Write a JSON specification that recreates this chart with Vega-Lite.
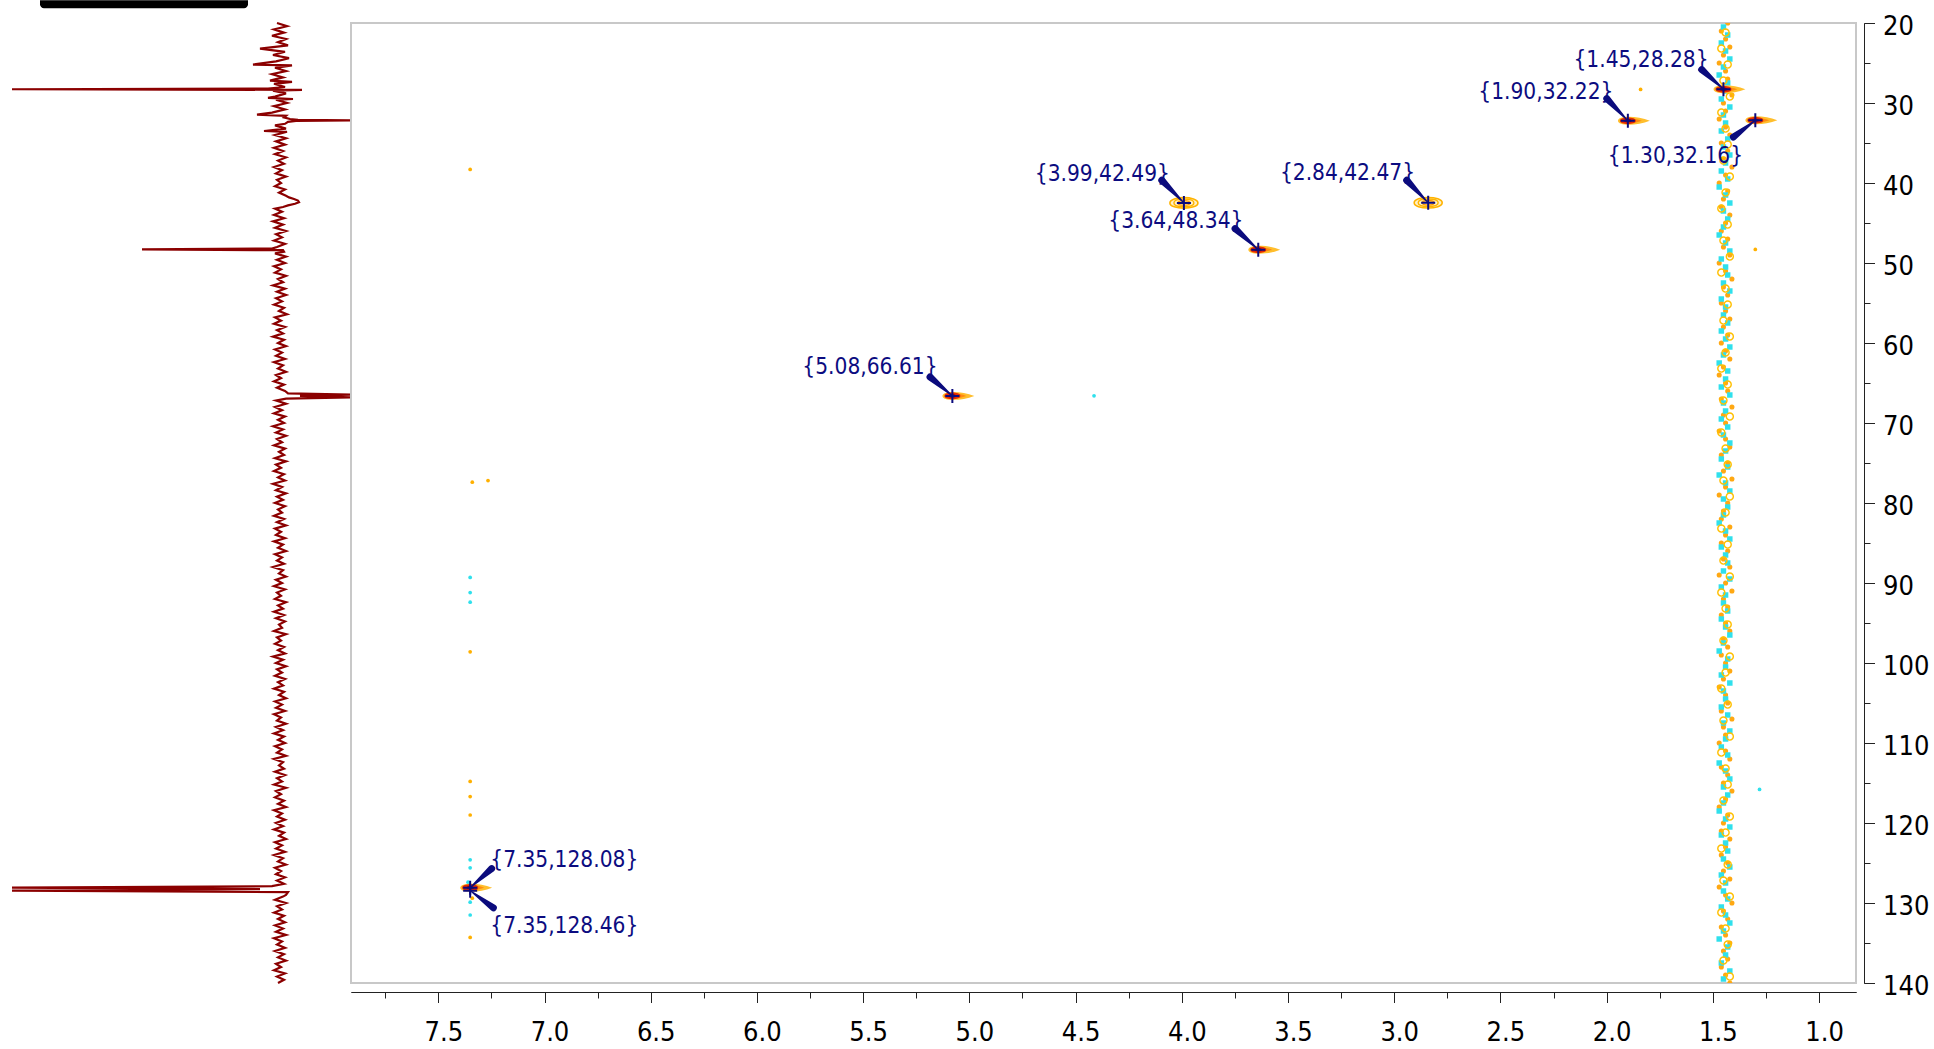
{
"$schema": "https://vega.github.io/schema/vega-lite/v6.json",
"padding": 0,
"spacing": 0,
"bounds": "flush",
"background": "white",
"config": {"view": {"stroke": null}},
"datasets": {
"spec1d": [
{"p":20.0,"i":3},{"p":20.4,"i":-7},{"p":20.8,"i":6},{"p":21.2,"i":-4},{"p":21.6,"i":8},{"p":22.0,"i":-6},{"p":22.4,"i":2},{"p":22.8,"i":-8},{"p":23.2,"i":20},{"p":23.6,"i":-5},
{"p":24.0,"i":7},{"p":24.4,"i":-9},{"p":24.8,"i":4},{"p":25.2,"i":27},{"p":25.3,"i":-12},{"p":25.6,"i":5},{"p":26.0,"i":-6},{"p":26.4,"i":8},{"p":26.8,"i":-3},{"p":27.2,"i":10},
{"p":27.35,"i":-12},{"p":27.6,"i":6},{"p":28.0,"i":-5},{"p":28.2,"i":12},{"p":28.28,"i":268},{"p":28.36,"i":-22},{"p":28.45,"i":7},{"p":28.8,"i":-6},{"p":29.2,"i":5},{"p":29.35,"i":12},
{"p":29.5,"i":-13},{"p":29.6,"i":4},{"p":30.0,"i":-7},{"p":30.4,"i":6},{"p":30.8,"i":-5},{"p":31.2,"i":8},{"p":31.45,"i":23},{"p":31.6,"i":-6},{"p":31.8,"i":-4},{"p":32.0,"i":-10},
{"p":32.1,"i":-18},{"p":32.18,"i":-71},{"p":32.24,"i":-16},{"p":32.35,"i":-8},{"p":32.6,"i":-5},{"p":32.8,"i":5},{"p":33.2,"i":-6},{"p":33.5,"i":16},{"p":33.6,"i":-7},{"p":34.0,"i":5},
{"p":34.4,"i":-6},{"p":34.8,"i":4},{"p":35.2,"i":-5},{"p":35.6,"i":6},{"p":36.0,"i":-3},{"p":36.4,"i":5},{"p":36.8,"i":-6},{"p":37.2,"i":2},{"p":37.6,"i":-4},{"p":38.0,"i":6},
{"p":38.4,"i":-2},{"p":38.8,"i":4},{"p":39.2,"i":-6},{"p":39.6,"i":3},{"p":40.0,"i":-1},{"p":40.4,"i":5},{"p":40.8,"i":-5},{"p":41.2,"i":1},{"p":41.6,"i":-6},{"p":41.8,"i":-9},
{"p":42.0,"i":-14},{"p":42.2,"i":-18},{"p":42.4,"i":-19},{"p":42.6,"i":-15},{"p":42.8,"i":-8},{"p":43.0,"i":-3},{"p":43.2,"i":5},{"p":43.6,"i":-2},{"p":44.0,"i":6},{"p":44.4,"i":-4},
{"p":44.8,"i":7},{"p":45.2,"i":-3},{"p":45.6,"i":5},{"p":46.0,"i":-6},{"p":46.4,"i":4},{"p":46.8,"i":-2},{"p":47.2,"i":6},{"p":47.6,"i":-5},{"p":48.0,"i":3},{"p":48.2,"i":8},
{"p":48.3,"i":138},{"p":48.4,"i":-3},{"p":48.6,"i":-4},{"p":48.8,"i":5},{"p":49.2,"i":-6},{"p":49.6,"i":3},{"p":50.0,"i":-5},{"p":50.4,"i":6},{"p":50.8,"i":-1},{"p":51.2,"i":5},
{"p":51.6,"i":-6},{"p":52.0,"i":2},{"p":52.4,"i":-3},{"p":52.8,"i":7},{"p":53.2,"i":-5},{"p":53.6,"i":3},{"p":54.0,"i":-6},{"p":54.4,"i":4},{"p":54.8,"i":-2},{"p":55.2,"i":6},
{"p":55.6,"i":-4},{"p":56.0,"i":1},{"p":56.4,"i":-7},{"p":56.8,"i":5},{"p":57.2,"i":-1},{"p":57.6,"i":6},{"p":58.0,"i":-5},{"p":58.4,"i":3},{"p":58.8,"i":-3},{"p":59.2,"i":7},
{"p":59.6,"i":-4},{"p":60.0,"i":2},{"p":60.4,"i":-6},{"p":60.8,"i":5},{"p":61.2,"i":-2},{"p":61.6,"i":4},{"p":62.0,"i":-5},{"p":62.4,"i":6},{"p":62.8,"i":-3},{"p":63.2,"i":2},
{"p":63.6,"i":-6},{"p":64.0,"i":4},{"p":64.4,"i":-1},{"p":64.8,"i":6},{"p":65.2,"i":-4},{"p":65.6,"i":3},{"p":66.0,"i":-5},{"p":66.3,"i":-8},{"p":66.45,"i":-71},{"p":66.62,"i":-20},
{"p":66.79,"i":-71},{"p":66.95,"i":-6},{"p":67.2,"i":4},{"p":67.6,"i":-6},{"p":68.0,"i":5},{"p":68.4,"i":-2},{"p":68.8,"i":6},{"p":69.2,"i":-5},{"p":69.6,"i":2},{"p":70.0,"i":-4},
{"p":70.4,"i":7},{"p":70.8,"i":-3},{"p":71.2,"i":4},{"p":71.6,"i":-6},{"p":72.0,"i":3},{"p":72.4,"i":-2},{"p":72.8,"i":6},{"p":73.2,"i":-5},{"p":73.6,"i":1},{"p":74.0,"i":-4},
{"p":74.4,"i":5},{"p":74.8,"i":-6},{"p":75.2,"i":4},{"p":75.6,"i":-1},{"p":76.0,"i":6},{"p":76.4,"i":-4},{"p":76.8,"i":2},{"p":77.2,"i":-5},{"p":77.6,"i":7},{"p":78.0,"i":-2},
{"p":78.4,"i":4},{"p":78.8,"i":-6},{"p":79.2,"i":3},{"p":79.6,"i":-3},{"p":80.0,"i":5},{"p":80.4,"i":-5},{"p":80.8,"i":2},{"p":81.2,"i":-2},{"p":81.6,"i":6},{"p":82.0,"i":-4},
{"p":82.4,"i":3},{"p":82.8,"i":-6},{"p":83.2,"i":5},{"p":83.6,"i":-1},{"p":84.0,"i":4},{"p":84.4,"i":-5},{"p":84.8,"i":6},{"p":85.2,"i":-3},{"p":85.6,"i":2},{"p":86.0,"i":-6},
{"p":86.4,"i":5},{"p":86.8,"i":-2},{"p":87.2,"i":3},{"p":87.6,"i":-4},{"p":88.0,"i":7},{"p":88.4,"i":-3},{"p":88.8,"i":1},{"p":89.2,"i":-6},{"p":89.6,"i":4},{"p":90.0,"i":-2},
{"p":90.4,"i":6},{"p":90.8,"i":-5},{"p":91.2,"i":3},{"p":91.6,"i":-1},{"p":92.0,"i":5},{"p":92.4,"i":-6},{"p":92.8,"i":2},{"p":93.2,"i":-3},{"p":93.6,"i":6},{"p":94.0,"i":-4},
{"p":94.4,"i":4},{"p":94.8,"i":-5},{"p":95.2,"i":1},{"p":95.6,"i":-2},{"p":96.0,"i":6},{"p":96.4,"i":-6},{"p":96.8,"i":3},{"p":97.2,"i":-1},{"p":97.6,"i":5},{"p":98.0,"i":-4},
{"p":98.4,"i":2},{"p":98.8,"i":-5},{"p":99.2,"i":7},{"p":99.6,"i":-3},{"p":100.0,"i":4},{"p":100.4,"i":-6},{"p":100.8,"i":3},{"p":101.2,"i":-2},{"p":101.6,"i":5},{"p":102.0,"i":-5},
{"p":102.4,"i":2},{"p":102.8,"i":-3},{"p":103.2,"i":6},{"p":103.6,"i":-4},{"p":104.0,"i":1},{"p":104.4,"i":-6},{"p":104.8,"i":5},{"p":105.2,"i":-2},{"p":105.6,"i":4},{"p":106.0,"i":-5},
{"p":106.4,"i":6},{"p":106.8,"i":-1},{"p":107.2,"i":3},{"p":107.6,"i":-6},{"p":108.0,"i":4},{"p":108.4,"i":-3},{"p":108.8,"i":6},{"p":109.2,"i":-4},{"p":109.6,"i":2},{"p":110.0,"i":-5},
{"p":110.4,"i":5},{"p":110.8,"i":-2},{"p":111.2,"i":3},{"p":111.6,"i":-6},{"p":112.0,"i":6},{"p":112.4,"i":-3},{"p":112.8,"i":1},{"p":113.2,"i":-4},{"p":113.6,"i":5},{"p":114.0,"i":-5},
{"p":114.4,"i":3},{"p":114.8,"i":-2},{"p":115.2,"i":6},{"p":115.6,"i":-6},{"p":116.0,"i":4},{"p":116.4,"i":-1},{"p":116.8,"i":5},{"p":117.2,"i":-4},{"p":117.6,"i":2},{"p":118.0,"i":-6},
{"p":118.4,"i":6},{"p":118.8,"i":-2},{"p":119.2,"i":3},{"p":119.6,"i":-5},{"p":120.0,"i":4},{"p":120.4,"i":-3},{"p":120.8,"i":6},{"p":121.2,"i":-4},{"p":121.6,"i":1},{"p":122.0,"i":-6},
{"p":122.4,"i":5},{"p":122.8,"i":-2},{"p":123.2,"i":4},{"p":123.6,"i":-5},{"p":124.0,"i":6},{"p":124.4,"i":-3},{"p":124.8,"i":2},{"p":125.2,"i":-6},{"p":125.6,"i":5},{"p":126.0,"i":-1},
{"p":126.4,"i":4},{"p":126.8,"i":-5},{"p":127.2,"i":3},{"p":127.6,"i":-4},{"p":127.9,"i":8},{"p":128.08,"i":268},{"p":128.27,"i":20},{"p":128.46,"i":268},{"p":128.65,"i":-8},{"p":129.0,"i":-6},
{"p":129.2,"i":-3},{"p":129.6,"i":5},{"p":130.0,"i":-6},{"p":130.4,"i":3},{"p":130.8,"i":-2},{"p":131.2,"i":6},{"p":131.6,"i":-4},{"p":132.0,"i":2},{"p":132.4,"i":-5},{"p":132.8,"i":5},
{"p":133.2,"i":-3},{"p":133.6,"i":4},{"p":134.0,"i":-6},{"p":134.4,"i":6},{"p":134.8,"i":-2},{"p":135.2,"i":3},{"p":135.6,"i":-5},{"p":136.0,"i":5},{"p":136.4,"i":-4},{"p":136.8,"i":2},
{"p":137.2,"i":-6},{"p":137.6,"i":4},{"p":138.0,"i":-1},{"p":138.4,"i":6},{"p":138.8,"i":-5},{"p":139.2,"i":3},{"p":139.6,"i":-4},{"p":140.0,"i":2}
],
"bar": [{"x1":240,"x2":32,"y1":17.16,"y2":18.15}],
"streak": [
{"k":"c","y":20.5,"x":1.45},{"k":"c","y":21.5,"x":1.43},{"k":"c","y":22.5,"x":1.46},{"k":"c","y":23.5,"x":1.44},{"k":"c","y":24.5,"x":1.42},{"k":"c","y":25.5,"x":1.45},{"k":"c","y":26.5,"x":1.47},{"k":"c","y":27.5,"x":1.43},{"k":"c","y":28.5,"x":1.44},{"k":"c","y":29.5,"x":1.46},{"k":"c","y":30.5,"x":1.42},{"k":"c","y":31.5,"x":1.45},
{"k":"c","y":32.5,"x":1.44},{"k":"c","y":33.5,"x":1.46},{"k":"c","y":34.5,"x":1.43},{"k":"c","y":35.5,"x":1.45},{"k":"c","y":36.5,"x":1.42},{"k":"c","y":37.5,"x":1.44},{"k":"c","y":38.5,"x":1.46},{"k":"c","y":39.5,"x":1.43},{"k":"c","y":40.5,"x":1.47},{"k":"c","y":41.5,"x":1.44},{"k":"c","y":42.5,"x":1.42},{"k":"c","y":43.5,"x":1.45},
{"k":"c","y":44.5,"x":1.43},{"k":"c","y":45.5,"x":1.45},{"k":"c","y":46.5,"x":1.47},{"k":"c","y":47.5,"x":1.44},{"k":"c","y":48.5,"x":1.42},{"k":"c","y":49.5,"x":1.46},{"k":"c","y":50.5,"x":1.44},{"k":"c","y":51.5,"x":1.43},{"k":"c","y":52.5,"x":1.45},{"k":"c","y":53.5,"x":1.42},{"k":"c","y":54.5,"x":1.46},{"k":"c","y":55.5,"x":1.44},
{"k":"c","y":56.5,"x":1.45},{"k":"c","y":57.5,"x":1.43},{"k":"c","y":58.5,"x":1.46},{"k":"c","y":59.5,"x":1.44},{"k":"c","y":60.5,"x":1.42},{"k":"c","y":61.5,"x":1.45},{"k":"c","y":62.5,"x":1.47},{"k":"c","y":63.5,"x":1.43},{"k":"c","y":64.5,"x":1.44},{"k":"c","y":65.5,"x":1.46},{"k":"c","y":66.5,"x":1.42},{"k":"c","y":67.5,"x":1.45},
{"k":"c","y":68.5,"x":1.44},{"k":"c","y":69.5,"x":1.46},{"k":"c","y":70.5,"x":1.43},{"k":"c","y":71.5,"x":1.45},{"k":"c","y":72.5,"x":1.42},{"k":"c","y":73.5,"x":1.44},{"k":"c","y":74.5,"x":1.46},{"k":"c","y":75.5,"x":1.43},{"k":"c","y":76.5,"x":1.47},{"k":"c","y":77.5,"x":1.44},{"k":"c","y":78.5,"x":1.42},{"k":"c","y":79.5,"x":1.45},
{"k":"c","y":80.5,"x":1.43},{"k":"c","y":81.5,"x":1.45},{"k":"c","y":82.5,"x":1.47},{"k":"c","y":83.5,"x":1.44},{"k":"c","y":84.5,"x":1.42},{"k":"c","y":85.5,"x":1.46},{"k":"c","y":86.5,"x":1.44},{"k":"c","y":87.5,"x":1.43},{"k":"c","y":88.5,"x":1.45},{"k":"c","y":89.5,"x":1.42},{"k":"c","y":90.5,"x":1.46},{"k":"c","y":91.5,"x":1.44},
{"k":"c","y":92.5,"x":1.45},{"k":"c","y":93.5,"x":1.43},{"k":"c","y":94.5,"x":1.46},{"k":"c","y":95.5,"x":1.44},{"k":"c","y":96.5,"x":1.42},{"k":"c","y":97.5,"x":1.45},{"k":"c","y":98.5,"x":1.47},{"k":"c","y":99.5,"x":1.43},{"k":"c","y":100.5,"x":1.44},{"k":"c","y":101.5,"x":1.46},{"k":"c","y":102.5,"x":1.42},{"k":"c","y":103.5,"x":1.45},
{"k":"c","y":104.5,"x":1.44},{"k":"c","y":105.5,"x":1.46},{"k":"c","y":106.5,"x":1.43},{"k":"c","y":107.5,"x":1.45},{"k":"c","y":108.5,"x":1.42},{"k":"c","y":109.5,"x":1.44},{"k":"c","y":110.5,"x":1.46},{"k":"c","y":111.5,"x":1.43},{"k":"c","y":112.5,"x":1.47},{"k":"c","y":113.5,"x":1.44},{"k":"c","y":114.5,"x":1.42},{"k":"c","y":115.5,"x":1.45},
{"k":"c","y":116.5,"x":1.43},{"k":"c","y":117.5,"x":1.45},{"k":"c","y":118.5,"x":1.47},{"k":"c","y":119.5,"x":1.44},{"k":"c","y":120.5,"x":1.42},{"k":"c","y":121.5,"x":1.46},{"k":"c","y":122.5,"x":1.44},{"k":"c","y":123.5,"x":1.43},{"k":"c","y":124.5,"x":1.45},{"k":"c","y":125.5,"x":1.42},{"k":"c","y":126.5,"x":1.46},{"k":"c","y":127.5,"x":1.44},
{"k":"c","y":128.5,"x":1.45},{"k":"c","y":129.5,"x":1.43},{"k":"c","y":130.5,"x":1.46},{"k":"c","y":131.5,"x":1.44},{"k":"c","y":132.5,"x":1.42},{"k":"c","y":133.5,"x":1.45},{"k":"c","y":134.5,"x":1.47},{"k":"c","y":135.5,"x":1.43},{"k":"c","y":136.5,"x":1.44},{"k":"c","y":137.5,"x":1.46},{"k":"c","y":138.5,"x":1.42},{"k":"c","y":139.5,"x":1.45},
{"k":"o","y":20,"x":1.43},{"k":"o","y":21,"x":1.46},{"k":"o","y":22,"x":1.44},{"k":"o","y":23,"x":1.42},{"k":"o","y":24,"x":1.45},{"k":"o","y":25,"x":1.47},{"k":"o","y":26,"x":1.44},{"k":"o","y":27,"x":1.43},{"k":"o","y":28,"x":1.46},{"k":"o","y":29,"x":1.41},{"k":"o","y":30,"x":1.45},{"k":"o","y":31,"x":1.44},{"k":"o","y":32,"x":1.47},
{"k":"o","y":33,"x":1.44},{"k":"o","y":34,"x":1.42},{"k":"o","y":35,"x":1.46},{"k":"o","y":36,"x":1.43},{"k":"o","y":37,"x":1.45},{"k":"o","y":38,"x":1.41},{"k":"o","y":39,"x":1.44},{"k":"o","y":40,"x":1.47},{"k":"o","y":41,"x":1.43},{"k":"o","y":42,"x":1.45},{"k":"o","y":43,"x":1.46},{"k":"o","y":44,"x":1.42},{"k":"o","y":45,"x":1.44},
{"k":"o","y":46,"x":1.46},{"k":"o","y":47,"x":1.43},{"k":"o","y":48,"x":1.45},{"k":"o","y":49,"x":1.42},{"k":"o","y":50,"x":1.47},{"k":"o","y":51,"x":1.44},{"k":"o","y":52,"x":1.41},{"k":"o","y":53,"x":1.45},{"k":"o","y":54,"x":1.43},{"k":"o","y":55,"x":1.46},{"k":"o","y":56,"x":1.44},{"k":"o","y":57,"x":1.42},{"k":"o","y":58,"x":1.45},
{"k":"o","y":59,"x":1.43},{"k":"o","y":60,"x":1.46},{"k":"o","y":61,"x":1.44},{"k":"o","y":62,"x":1.42},{"k":"o","y":63,"x":1.45},{"k":"o","y":64,"x":1.47},{"k":"o","y":65,"x":1.44},{"k":"o","y":66,"x":1.43},{"k":"o","y":67,"x":1.46},{"k":"o","y":68,"x":1.41},{"k":"o","y":69,"x":1.45},{"k":"o","y":70,"x":1.44},{"k":"o","y":71,"x":1.47},
{"k":"o","y":72,"x":1.44},{"k":"o","y":73,"x":1.42},{"k":"o","y":74,"x":1.46},{"k":"o","y":75,"x":1.43},{"k":"o","y":76,"x":1.45},{"k":"o","y":77,"x":1.41},{"k":"o","y":78,"x":1.44},{"k":"o","y":79,"x":1.47},{"k":"o","y":80,"x":1.43},{"k":"o","y":81,"x":1.45},{"k":"o","y":82,"x":1.46},{"k":"o","y":83,"x":1.42},{"k":"o","y":84,"x":1.44},
{"k":"o","y":85,"x":1.46},{"k":"o","y":86,"x":1.43},{"k":"o","y":87,"x":1.45},{"k":"o","y":88,"x":1.42},{"k":"o","y":89,"x":1.47},{"k":"o","y":90,"x":1.44},{"k":"o","y":91,"x":1.41},{"k":"o","y":92,"x":1.45},{"k":"o","y":93,"x":1.43},{"k":"o","y":94,"x":1.46},{"k":"o","y":95,"x":1.44},{"k":"o","y":96,"x":1.42},{"k":"o","y":97,"x":1.45},
{"k":"o","y":98,"x":1.43},{"k":"o","y":99,"x":1.46},{"k":"o","y":100,"x":1.44},{"k":"o","y":101,"x":1.42},{"k":"o","y":102,"x":1.45},{"k":"o","y":103,"x":1.47},{"k":"o","y":104,"x":1.44},{"k":"o","y":105,"x":1.43},{"k":"o","y":106,"x":1.46},{"k":"o","y":107,"x":1.41},{"k":"o","y":108,"x":1.45},{"k":"o","y":109,"x":1.44},{"k":"o","y":110,"x":1.47},
{"k":"o","y":111,"x":1.44},{"k":"o","y":112,"x":1.42},{"k":"o","y":113,"x":1.46},{"k":"o","y":114,"x":1.43},{"k":"o","y":115,"x":1.45},{"k":"o","y":116,"x":1.41},{"k":"o","y":117,"x":1.44},{"k":"o","y":118,"x":1.47},{"k":"o","y":119,"x":1.43},{"k":"o","y":120,"x":1.45},{"k":"o","y":121,"x":1.46},{"k":"o","y":122,"x":1.42},{"k":"o","y":123,"x":1.44},
{"k":"o","y":124,"x":1.46},{"k":"o","y":125,"x":1.43},{"k":"o","y":126,"x":1.45},{"k":"o","y":127,"x":1.42},{"k":"o","y":128,"x":1.47},{"k":"o","y":129,"x":1.44},{"k":"o","y":130,"x":1.41},{"k":"o","y":131,"x":1.45},{"k":"o","y":132,"x":1.43},{"k":"o","y":133,"x":1.46},{"k":"o","y":134,"x":1.44},{"k":"o","y":135,"x":1.42},{"k":"o","y":136,"x":1.45},
{"k":"o","y":137,"x":1.43},{"k":"o","y":138,"x":1.46},{"k":"o","y":139,"x":1.44},{"k":"o","y":140,"x":1.42},
{"k":"r","y":21.2,"x":1.44},{"k":"r","y":23.2,"x":1.46},{"k":"r","y":25.2,"x":1.43},{"k":"r","y":27.2,"x":1.45},{"k":"r","y":29.2,"x":1.42},{"k":"r","y":31.2,"x":1.46},{"k":"r","y":33.2,"x":1.44},{"k":"r","y":35.2,"x":1.43},{"k":"r","y":37.2,"x":1.45},{"k":"r","y":39.2,"x":1.42},
{"k":"r","y":41.2,"x":1.44},{"k":"r","y":43.2,"x":1.46},{"k":"r","y":45.2,"x":1.43},{"k":"r","y":47.2,"x":1.45},{"k":"r","y":49.2,"x":1.42},{"k":"r","y":51.2,"x":1.46},{"k":"r","y":53.2,"x":1.44},{"k":"r","y":55.2,"x":1.43},{"k":"r","y":57.2,"x":1.45},{"k":"r","y":59.2,"x":1.42},
{"k":"r","y":61.2,"x":1.44},{"k":"r","y":63.2,"x":1.46},{"k":"r","y":65.2,"x":1.43},{"k":"r","y":67.2,"x":1.45},{"k":"r","y":69.2,"x":1.42},{"k":"r","y":71.2,"x":1.46},{"k":"r","y":73.2,"x":1.44},{"k":"r","y":75.2,"x":1.43},{"k":"r","y":77.2,"x":1.45},{"k":"r","y":79.2,"x":1.42},
{"k":"r","y":81.2,"x":1.44},{"k":"r","y":83.2,"x":1.46},{"k":"r","y":85.2,"x":1.43},{"k":"r","y":87.2,"x":1.45},{"k":"r","y":89.2,"x":1.42},{"k":"r","y":91.2,"x":1.46},{"k":"r","y":93.2,"x":1.44},{"k":"r","y":95.2,"x":1.43},{"k":"r","y":97.2,"x":1.45},{"k":"r","y":99.2,"x":1.42},
{"k":"r","y":101.2,"x":1.44},{"k":"r","y":103.2,"x":1.46},{"k":"r","y":105.2,"x":1.43},{"k":"r","y":107.2,"x":1.45},{"k":"r","y":109.2,"x":1.42},{"k":"r","y":111.2,"x":1.46},{"k":"r","y":113.2,"x":1.44},{"k":"r","y":115.2,"x":1.43},{"k":"r","y":117.2,"x":1.45},{"k":"r","y":119.2,"x":1.42},
{"k":"r","y":121.2,"x":1.44},{"k":"r","y":123.2,"x":1.46},{"k":"r","y":125.2,"x":1.43},{"k":"r","y":127.2,"x":1.45},{"k":"r","y":129.2,"x":1.42},{"k":"r","y":131.2,"x":1.46},{"k":"r","y":133.2,"x":1.44},{"k":"r","y":135.2,"x":1.43},{"k":"r","y":137.2,"x":1.45},{"k":"r","y":139.2,"x":1.42}
],
"specks": [
{"x":7.266,"y":77.2,"k":"o"},{"x":7.34,"y":77.4,"k":"o"},{"x":7.35,"y":38.3,"k":"o"},{"x":7.35,"y":89.3,"k":"c"},{"x":7.35,"y":91.2,"k":"c"},{"x":7.35,"y":92.4,"k":"c"},{"x":7.35,"y":98.6,"k":"o"},{"x":7.35,"y":114.8,"k":"o"},{"x":7.35,"y":116.7,"k":"o"},{"x":7.35,"y":119.0,"k":"o"},{"x":7.35,"y":124.6,"k":"c"},{"x":7.35,"y":125.6,"k":"c"},{"x":7.38,"y":128.2,"k":"c"},{"x":7.36,"y":127.4,"k":"c"},{"x":7.35,"y":129.9,"k":"c"},{"x":7.34,"y":129.4,"k":"o"},{"x":7.35,"y":131.5,"k":"c"},{"x":7.35,"y":134.3,"k":"o"},{"x":4.413,"y":66.6,"k":"c"},{"x":1.28,"y":115.8,"k":"c"},{"x":1.30,"y":48.3,"k":"o"},{"x":1.84,"y":28.3,"k":"o"}
],
"peaks": [
{"x":1.45,"y":28.28,"label":"{1.45,28.28}","lx":1.838,"ly":24.66,"t":"filled"},
{"x":1.90,"y":32.22,"label":"{1.90,32.22}","lx":2.286,"ly":28.63,"t":"filled"},
{"x":1.30,"y":32.16,"label":"{1.30,32.16}","lx":1.676,"ly":36.66,"t":"filled"},
{"x":3.99,"y":42.49,"label":"{3.99,42.49}","lx":4.374,"ly":38.83,"t":"ring"},
{"x":2.84,"y":42.47,"label":"{2.84,42.47}","lx":3.220,"ly":38.79,"t":"ring"},
{"x":3.64,"y":48.34,"label":"{3.64,48.34}","lx":4.028,"ly":44.75,"t":"filled"},
{"x":5.08,"y":66.61,"label":"{5.08,66.61}","lx":5.468,"ly":62.95,"t":"filled"},
{"x":7.35,"y":128.08,"label":"{7.35,128.08}","lx":6.907,"ly":124.66,"t":"filled"},
{"x":7.35,"y":128.46,"label":"{7.35,128.46}","lx":6.907,"ly":132.91,"t":"none"}
],
"arrows": [
{"id":1,"s":0,"x":1.552,"y":25.83},{"id":1,"s":1,"x":1.45,"y":28.28},
{"id":2,"s":0,"x":1.999,"y":29.45},{"id":2,"s":1,"x":1.90,"y":32.22},
{"id":3,"s":0,"x":1.403,"y":34.25},{"id":3,"s":1,"x":1.30,"y":32.16},
{"id":4,"s":0,"x":4.094,"y":39.66},{"id":4,"s":1,"x":3.99,"y":42.49},
{"id":5,"s":0,"x":2.941,"y":39.66},{"id":5,"s":1,"x":2.84,"y":42.47},
{"id":6,"s":0,"x":3.749,"y":45.7},{"id":6,"s":1,"x":3.64,"y":48.34},
{"id":7,"s":0,"x":5.185,"y":64.25},{"id":7,"s":1,"x":5.08,"y":66.61},
{"id":8,"s":0,"x":7.249,"y":125.7},{"id":8,"s":1,"x":7.35,"y":128.08},
{"id":9,"s":0,"x":7.241,"y":130.6},{"id":9,"s":1,"x":7.35,"y":128.46}
]
},
"hconcat": [
{
"width": 351,
"height": 960,
"layer": [
{"data": {"name": "spec1d"},
 "mark": {"type": "line", "color": "#8b0000", "strokeWidth": 2.2},
 "encoding": {
  "x": {"field": "i", "type": "quantitative", "scale": {"domain": [-71, 280], "reverse": true, "nice": false, "zero": false}, "axis": null},
  "y": {"field": "p", "type": "quantitative", "scale": {"domain": [20, 140], "reverse": true, "nice": false, "zero": false}, "axis": null},
  "order": {"field": "p", "type": "quantitative"}
 }},
{"data": {"name": "bar"},
 "mark": {"type": "rect", "color": "#000000", "cornerRadiusBottomLeft": 8, "cornerRadiusBottomRight": 8},
 "encoding": {
  "x": {"field": "x1", "type": "quantitative", "scale": {"domain": [-71, 280], "reverse": true, "nice": false, "zero": false}, "axis": null},
  "x2": {"field": "x2"},
  "y": {"field": "y1", "type": "quantitative", "scale": {"domain": [20, 140], "reverse": true, "nice": false, "zero": false}, "axis": null},
  "y2": {"field": "y2"}
 }}
]
},
{
"width": 1505,
"height": 960,
"view": {"stroke": "#c8c8c8", "strokeWidth": 2},
"resolve": {"axis": {"x": "independent", "y": "independent"}},
"layer": [
{"data": {"name": "streak"}, "transform": [{"filter": "datum.k === 'o'"}],
 "mark": {"type": "point", "shape": "circle", "filled": true, "size": 26, "color": "#ffa812", "opacity": 1, "clip": true},
 "encoding": {
  "x": {"field": "x", "type": "quantitative", "scale": {"domain": [0.826, 7.911], "reverse": true, "nice": false, "zero": false}, "axis": null},
  "y": {"field": "y", "type": "quantitative", "scale": {"domain": [20, 140], "reverse": true, "nice": false, "zero": false}, "axis": null}
 }},
{"data": {"name": "streak"}, "transform": [{"filter": "datum.k === 'c'"}],
 "mark": {"type": "point", "shape": "square", "filled": true, "size": 30, "color": "#2fe0ec", "opacity": 1, "clip": true},
 "encoding": {
  "x": {"field": "x", "type": "quantitative", "scale": {"domain": [0.826, 7.911], "reverse": true, "nice": false, "zero": false}, "axis": null},
  "y": {"field": "y", "type": "quantitative", "scale": {"domain": [20, 140], "reverse": true, "nice": false, "zero": false}, "axis": null}
 }},
{"data": {"name": "streak"}, "transform": [{"filter": "datum.k === 'r'"}],
 "mark": {"type": "point", "shape": "circle", "filled": false, "size": 50, "stroke": "#ffbf00", "strokeWidth": 1.4, "opacity": 1, "clip": true},
 "encoding": {
  "x": {"field": "x", "type": "quantitative", "scale": {"domain": [0.826, 7.911], "reverse": true, "nice": false, "zero": false}, "axis": null},
  "y": {"field": "y", "type": "quantitative", "scale": {"domain": [20, 140], "reverse": true, "nice": false, "zero": false}, "axis": null}
 }},
{"data": {"name": "specks"},
 "mark": {"type": "point", "shape": "circle", "filled": true, "size": 14, "opacity": 1},
 "encoding": {
  "x": {"field": "x", "type": "quantitative", "scale": {"domain": [0.826, 7.911], "reverse": true, "nice": false, "zero": false}, "axis": null},
  "y": {"field": "y", "type": "quantitative", "scale": {"domain": [20, 140], "reverse": true, "nice": false, "zero": false}, "axis": null},
  "color": {"field": "k", "type": "nominal", "scale": {"domain": ["c", "o"], "range": ["#2fe0ec", "#ffb000"]}, "legend": null}
 }},
{"data": {"name": "peaks"}, "transform": [{"filter": "datum.t === 'filled'"}],
 "mark": {"type": "point", "shape": "M-0.45,0C-0.45,-0.24 0.4,-0.24 1,0C0.4,0.24 -0.45,0.24 -0.45,0Z", "filled": true, "size": 1936, "color": "#ffbe2c", "opacity": 1},
 "encoding": {
  "x": {"field": "x", "type": "quantitative", "scale": {"domain": [0.826, 7.911], "reverse": true, "nice": false, "zero": false}, "axis": null},
  "y": {"field": "y", "type": "quantitative", "scale": {"domain": [20, 140], "reverse": true, "nice": false, "zero": false}, "axis": null}
 }},
{"data": {"name": "peaks"}, "transform": [{"filter": "datum.t === 'filled'"}],
 "mark": {"type": "point", "shape": "M-0.45,0C-0.45,-0.24 0.4,-0.24 1,0C0.4,0.24 -0.45,0.24 -0.45,0Z", "filled": true, "size": 784, "color": "#ff8a10", "opacity": 1},
 "encoding": {
  "x": {"field": "x", "type": "quantitative", "scale": {"domain": [0.826, 7.911], "reverse": true, "nice": false, "zero": false}, "axis": null},
  "y": {"field": "y", "type": "quantitative", "scale": {"domain": [20, 140], "reverse": true, "nice": false, "zero": false}, "axis": null}
 }},
{"data": {"name": "peaks"}, "transform": [{"filter": "datum.t === 'filled'"}],
 "mark": {"type": "point", "shape": "M-1,0C-1,-0.55 1,-0.55 1,0C1,0.55 -1,0.55 -1,0Z", "filled": true, "size": 256, "color": "#e62a00", "opacity": 1},
 "encoding": {
  "x": {"field": "x", "type": "quantitative", "scale": {"domain": [0.826, 7.911], "reverse": true, "nice": false, "zero": false}, "axis": null},
  "y": {"field": "y", "type": "quantitative", "scale": {"domain": [20, 140], "reverse": true, "nice": false, "zero": false}, "axis": null}
 }},
{"data": {"name": "peaks"}, "transform": [{"filter": "datum.t === 'filled'"}],
 "mark": {"type": "point", "shape": "M-1,0C-1,-0.55 1,-0.55 1,0C1,0.55 -1,0.55 -1,0Z", "filled": true, "size": 64, "color": "#8a0000", "opacity": 1},
 "encoding": {
  "x": {"field": "x", "type": "quantitative", "scale": {"domain": [0.826, 7.911], "reverse": true, "nice": false, "zero": false}, "axis": null},
  "y": {"field": "y", "type": "quantitative", "scale": {"domain": [20, 140], "reverse": true, "nice": false, "zero": false}, "axis": null}
 }},
{"data": {"name": "peaks"}, "transform": [{"filter": "datum.t === 'ring'"}],
 "mark": {"type": "point", "shape": "M-1,0C-1,-0.5 1,-0.5 1,0C1,0.5 -1,0.5 -1,0Z", "filled": true, "size": 784, "fill": "#fff1c6", "stroke": "#ffb300", "strokeWidth": 1.6, "opacity": 1},
 "encoding": {
  "x": {"field": "x", "type": "quantitative", "scale": {"domain": [0.826, 7.911], "reverse": true, "nice": false, "zero": false}, "axis": null},
  "y": {"field": "y", "type": "quantitative", "scale": {"domain": [20, 140], "reverse": true, "nice": false, "zero": false}, "axis": null}
 }},
{"data": {"name": "peaks"}, "transform": [{"filter": "datum.t === 'ring'"}],
 "mark": {"type": "point", "shape": "M-1,0C-1,-0.5 1,-0.5 1,0C1,0.5 -1,0.5 -1,0Z", "filled": false, "size": 400, "stroke": "#ffb300", "strokeWidth": 1.4, "opacity": 1},
 "encoding": {
  "x": {"field": "x", "type": "quantitative", "scale": {"domain": [0.826, 7.911], "reverse": true, "nice": false, "zero": false}, "axis": null},
  "y": {"field": "y", "type": "quantitative", "scale": {"domain": [20, 140], "reverse": true, "nice": false, "zero": false}, "axis": null}
 }},
{"data": {"name": "peaks"}, "transform": [{"filter": "datum.t === 'ring'"}],
 "mark": {"type": "point", "shape": "M-1,0C-1,-0.5 1,-0.5 1,0C1,0.5 -1,0.5 -1,0Z", "filled": false, "size": 144, "stroke": "#ff9a00", "strokeWidth": 1.4, "opacity": 1},
 "encoding": {
  "x": {"field": "x", "type": "quantitative", "scale": {"domain": [0.826, 7.911], "reverse": true, "nice": false, "zero": false}, "axis": null},
  "y": {"field": "y", "type": "quantitative", "scale": {"domain": [20, 140], "reverse": true, "nice": false, "zero": false}, "axis": null}
 }},
{"data": {"name": "peaks"},
 "mark": {"type": "point", "shape": "M-1,0L1,0M0,-1L0,1", "filled": false, "size": 196, "stroke": "#0b0b7d", "strokeWidth": 2, "opacity": 1},
 "encoding": {
  "x": {"field": "x", "type": "quantitative", "scale": {"domain": [0.826, 7.911], "reverse": true, "nice": false, "zero": false},
        "axis": {"orient": "bottom", "offset": 9, "title": null, "grid": false, "values": [7.5, 7.0, 6.5, 6.0, 5.5, 5.0, 4.5, 4.0, 3.5, 3.0, 2.5, 2.0, 1.5, 1.0], "format": ".1f",
                 "tickSize": 10.5, "tickWidth": 1, "tickColor": "#222222", "domainColor": "#222222", "domainWidth": 1,
                 "labelFont": "Tahoma, DejaVu Sans Condensed, Liberation Sans, sans-serif", "labelFontSize": 27, "labelColor": "#000000",
                 "labelPadding": 17, "labelOffset": 5, "labelFlush": false, "labelOverlap": false, "labelBound": false}},
  "y": {"field": "y", "type": "quantitative", "scale": {"domain": [20, 140], "reverse": true, "nice": false, "zero": false},
        "axis": {"orient": "right", "offset": 8, "title": null, "grid": false, "values": [20, 30, 40, 50, 60, 70, 80, 90, 100, 110, 120, 130, 140],
                 "tickSize": 10.5, "tickWidth": 1, "tickColor": "#222222", "domainColor": "#222222", "domainWidth": 1,
                 "labelFont": "Tahoma, DejaVu Sans Condensed, Liberation Sans, sans-serif", "labelFontSize": 27, "labelColor": "#000000",
                 "labelPadding": 8, "labelOffset": 3, "labelFlush": false, "labelOverlap": false, "labelBound": false}}
 }},
{"data": {"name": "arrows"},
 "mark": {"type": "trail", "color": "#0b0b7d"},
 "encoding": {
  "x": {"field": "x", "type": "quantitative", "scale": {"domain": [0.826, 7.911], "reverse": true, "nice": false, "zero": false}, "axis": null},
  "y": {"field": "y", "type": "quantitative", "scale": {"domain": [20, 140], "reverse": true, "nice": false, "zero": false}, "axis": null},
  "detail": {"field": "id", "type": "nominal"},
  "order": {"field": "s", "type": "quantitative"},
  "size": {"field": "s", "type": "quantitative", "scale": {"domain": [0, 1], "range": [7, 1], "zero": false}, "legend": null}
 }},
{"data": {"name": "peaks"},
 "mark": {"type": "text", "font": "Tahoma, DejaVu Sans Condensed, Liberation Sans, sans-serif", "fontSize": 22.5, "color": "#0c0c80", "align": "center", "baseline": "middle"},
 "encoding": {
  "x": {"field": "lx", "type": "quantitative", "scale": {"domain": [0.826, 7.911], "reverse": true, "nice": false, "zero": false},
        "axis": {"orient": "bottom", "offset": 9, "title": null, "grid": false, "values": [7.75, 7.25, 6.75, 6.25, 5.75, 5.25, 4.75, 4.25, 3.75, 3.25, 2.75, 2.25, 1.75, 1.25],
                 "labels": false, "tickSize": 6, "tickWidth": 1, "tickColor": "#222222", "domainColor": "#222222", "domainWidth": 1}},
  "y": {"field": "ly", "type": "quantitative", "scale": {"domain": [20, 140], "reverse": true, "nice": false, "zero": false},
        "axis": {"orient": "right", "offset": 8, "title": null, "grid": false, "values": [25, 35, 45, 55, 65, 75, 85, 95, 105, 115, 125, 135],
                 "labels": false, "tickSize": 6, "tickWidth": 1, "tickColor": "#222222", "domainColor": "#222222", "domainWidth": 1}},
  "text": {"field": "label", "type": "nominal"}
 }}
]
}
]
}
